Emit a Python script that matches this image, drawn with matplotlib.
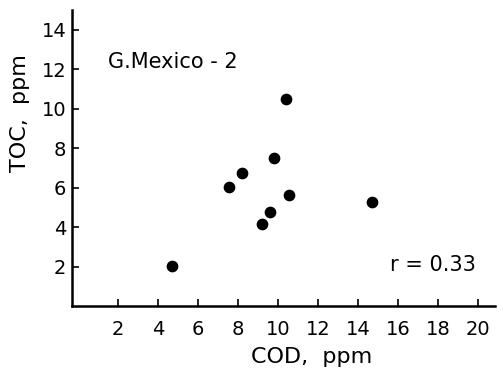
import matplotlib
matplotlib.use("Agg")
import matplotlib.pyplot as plt

cod = [4.68, 7.55, 8.2, 9.2, 9.6, 9.8, 10.4, 10.55, 14.7]
toc = [2.05, 6.03, 6.74, 4.16, 4.78, 7.48, 10.5, 5.6, 5.27]
xticks = [2, 4, 6, 8, 10, 12, 14, 16, 18, 20]
yticks = [2, 4, 6, 8, 10, 12, 14]

plt.rcParams['font.family'] = ['DejaVu Sans']

fig = plt.figure(figsize=(5.03, 3.71), dpi=100)
ax = fig.add_axes([72/503, 1-306/371, (495-72)/503, (306-10)/371])
ax.scatter(cod, toc, s=55, color='black', zorder=3)
ax.set_xlim(-0.3, 20.85)
ax.set_ylim(0, 15)
ax.set_xticks(xticks)
ax.set_yticks(yticks)
ax.set_xticklabels([str(v) for v in xticks])
ax.set_yticklabels([str(v) for v in yticks])
for s in ['top', 'right']:
    ax.spines[s].set_visible(False)
for s in ['left', 'bottom']:
    ax.spines[s].set_linewidth(1.8)
ax.tick_params(axis='both', direction='in', length=5, width=1.2, labelsize=14)
ax.tick_params(axis='x', pad=10)
ax.tick_params(axis='y', pad=4)

fig.text(20/503, 1-113/371, 'TOC,  ppm', rotation=90, ha='center', va='center', fontsize=16)
fig.text(312/503, 1-357/371, 'COD,  ppm', ha='center', va='center', fontsize=16)
fig.text(108/503, 1-62/371, 'G.Mexico - 2', ha='left', va='center', fontsize=15)
fig.text(390/503, 1-265/371, 'r = 0.33', ha='left', va='center', fontsize=15)

fig.savefig('out.png', dpi=100)
